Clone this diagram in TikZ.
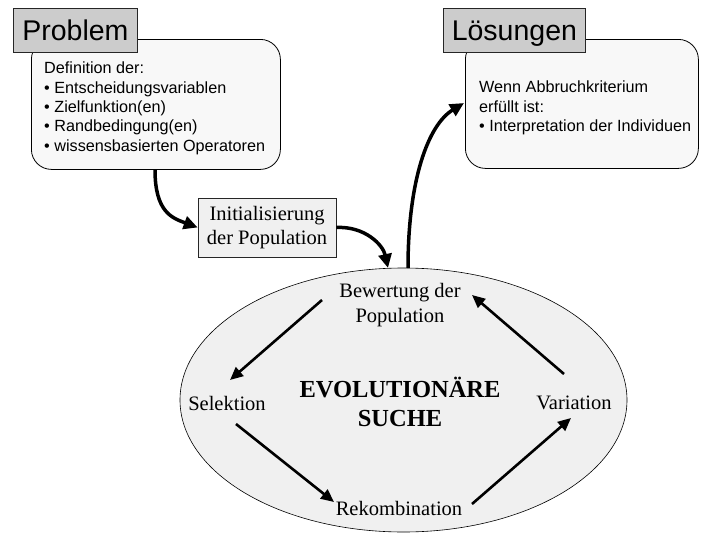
\documentclass[tikz,border=0pt]{standalone}
\usepackage{fontspec}
\setmainfont{Liberation Serif}
\setsansfont{Liberation Sans}
\usetikzlibrary{arrows.meta,shapes.geometric,calc}

\definecolor{labelgray}{HTML}{CCCCCC}
\definecolor{panelgray}{HTML}{F8F8F8}
\definecolor{ovalgray}{HTML}{F0F0F0}

\begin{document}
\begin{tikzpicture}[x=1pt,y=-1pt,
  tag/.style={draw=black!85, fill=labelgray, line width=0.8pt, inner sep=0pt,
    text height=25pt, text depth=5pt,
    anchor=north west, font=\sffamily\fontsize{28.5}{32}\selectfont},
  panel/.style={draw=black, fill=panelgray, rounded corners=20pt, line width=0.8pt,
    anchor=north west, inner sep=0pt},
  paneltext/.style={anchor=north west, inner sep=0pt, align=left,
    font=\sffamily\fontsize{16.2}{19.3}\selectfont},
  initbox/.style={draw=black!85, fill=ovalgray, line width=0.6pt, inner sep=0pt,
    align=center, font=\fontsize{20.5}{24}\selectfont},
  steptext/.style={inner sep=0pt, align=center, font=\fontsize{20.5}{25}\selectfont},
  flow/.style={line width=3.5pt, -{Triangle[length=14pt,width=13pt]}},
  loop/.style={line width=2.6pt, -{Triangle[length=13pt,width=11.5pt]}}
]
\useasboundingbox (0,0) rectangle (702,533);

% problem definition panel and its tag
\node[panel, minimum width=249pt, minimum height=130pt] (prob) at (31,39) {};
\node[tag, minimum width=124pt, minimum height=44pt] (problab) at (13,8) {Problem};
\node[paneltext] (probtext) at (44,62) {Definition der:\\
  • Entscheidungsvariablen\\
  • Zielfunktion(en)\\
  • Randbedingung(en)\\
  • wissensbasierten Operatoren};

% solutions panel and its tag
\node[panel, minimum width=233pt, minimum height=129pt] (sol) at (465,39) {};
\node[tag, minimum width=142pt, minimum height=44pt] (sollab) at (443,8) {Lösungen};
\node[paneltext] (soltext) at (479,81) {Wenn Abbruchkriterium\\
  erfüllt ist:\\
  • Interpretation der Individuen};

% initialisation
\node[initbox, minimum width=138pt, minimum height=59pt] (init) at (267,227.5)
  {Initialisierung\\der Population};

% evolutionary loop
\node[ellipse, draw=black, fill=ovalgray, line width=0.6pt, inner sep=0pt,
  minimum width=447pt, minimum height=264pt] (oval) at (403.5,400) {};
\node[steptext] (bew) at (400,305) {Bewertung der\\Population};
\node[steptext] (sel) at (227,403) {Selektion};
\node[steptext] (var) at (574,403) {Variation};
\node[steptext] (rek) at (399,508) {Rekombination};
\node[inner sep=0pt, align=center, font=\bfseries\fontsize{24.5}{29}\selectfont]
  (evo) at (400,402) {EVOLUTIONÄRE\\SUCHE};

% arrow end points around the loop
\coordinate (bewout) at (322,300);
\coordinate (selin)  at (230,380);
\coordinate (selout) at (236,424);
\coordinate (rekin)  at (334,502);
\coordinate (rekout) at (472,504);
\coordinate (varin)  at (571,418);
\coordinate (varout) at (564,374);
\coordinate (bewin)  at (472,295);

\draw[loop] (bewout) -- (selin);
\draw[loop] (selout) -- (rekin);
\draw[loop] (rekout) -- (varin);
\draw[loop] (varout) -- (bewin);

% flow between panels, initialisation and loop
\coordinate (probout) at ($(prob.south west)+(124,0)$);
\coordinate (ovaltopin) at (388,268);
\coordinate (ovaltopout) at (408,268);
\coordinate (solin) at (464,103);

\draw[flow] (probout) .. controls (155,212) and (172,218) .. (init.west);
\draw[flow] (init.east) .. controls (365,226) and (383,245) .. (ovaltopin);
\draw[flow] (ovaltopout) .. controls (408,180) and (428,125) .. (solin);
\end{tikzpicture}
\end{document}
